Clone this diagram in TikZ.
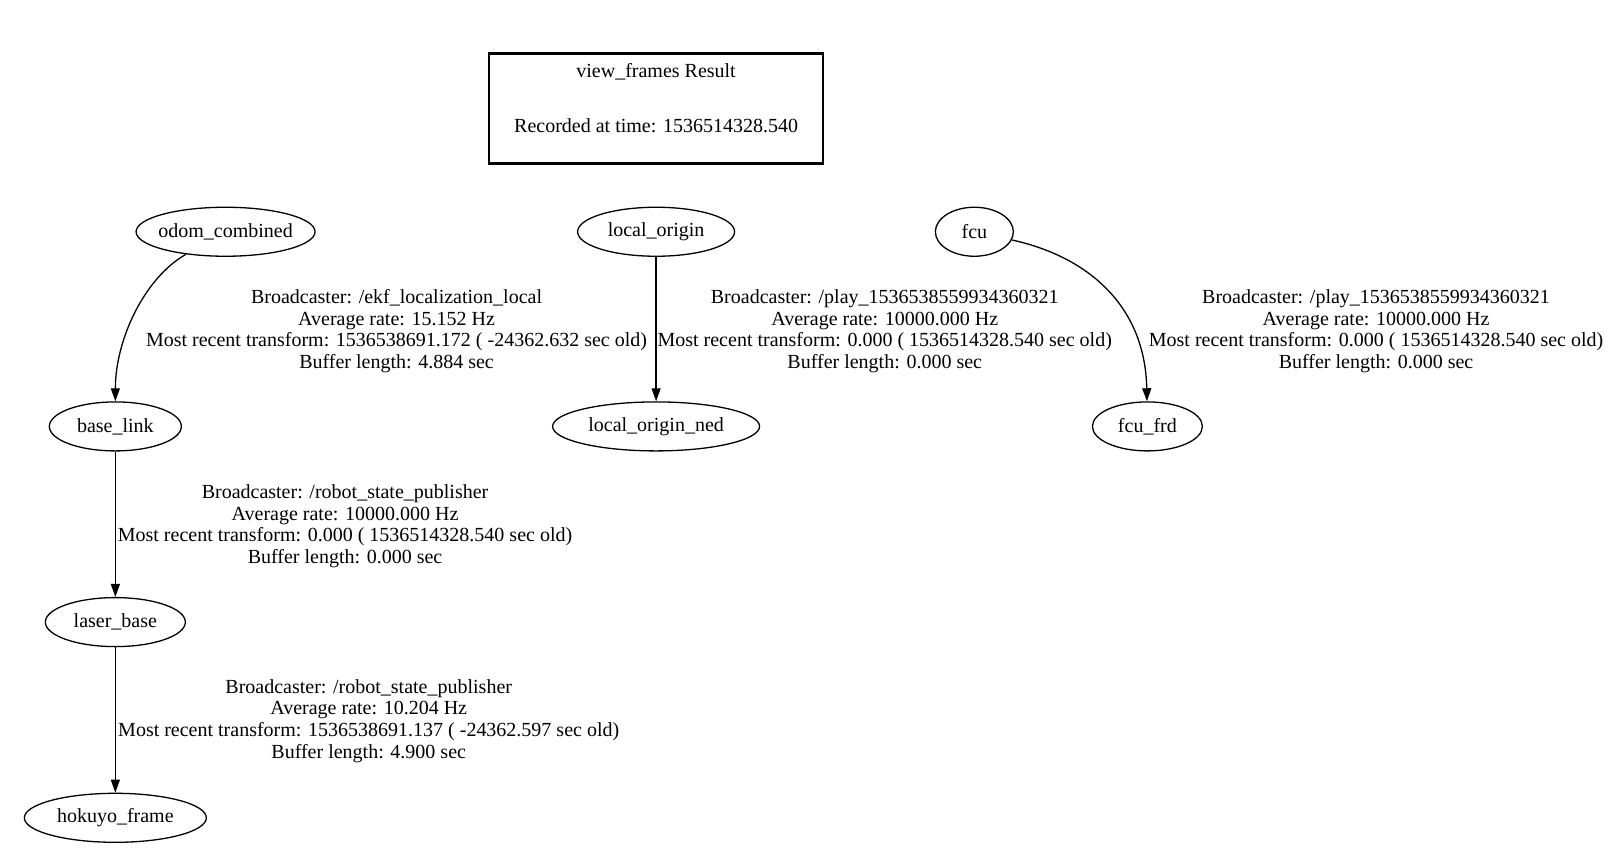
\documentclass[tikz,border=0pt]{standalone}
\usepackage{fontspec}
\setmainfont{Liberation Serif}
\usetikzlibrary{shapes.geometric,arrows.meta}
\newcommand{\zw}[1]{\raisebox{-1.5pt}{\makebox[0pt]{#1}}}
\begin{document}
\begin{tikzpicture}[x=1.03pt,y=-1.03pt,
  every node/.style={font=\fontsize{20pt}{21.6pt}\selectfont},
  tfnode/.style={ellipse, draw, line width=1.3pt, inner sep=0pt, minimum height=49pt},
  lbl/.style={align=center, inner sep=0pt},
  conn/.style={line width=1.3pt, -{Triangle[length=13pt,width=9pt]}},
  titlebox/.style={draw, line width=2.6pt, align=center, minimum width=334pt, minimum height=110pt, inner sep=0pt}]
\useasboundingbox (0,0) rectangle (1568,828);

\node[titlebox] (title) at (637,105.5) {view\_frames Result\\[33pt]Recorded at time: 1536514328.540\\\mbox{}};

\node[tfnode, minimum width=179pt] (odom) at (219,225) {\zw{odom\_combined}};
\node[tfnode, minimum width=157pt] (lo) at (637,225) {\zw{local\_origin}};
\node[tfnode, minimum width=78pt] (fcu) at (946,225) {\zw{fcu}};
\node[tfnode, minimum width=132pt] (base) at (112,414) {\zw{base\_link}};
\node[tfnode, minimum width=207pt] (lon) at (637,414) {\zw{local\_origin\_ned}};
\node[tfnode, minimum width=110pt] (frd) at (1114,414) {\zw{fcu\_frd}};
\node[tfnode, minimum width=140pt] (laser) at (112,604) {\zw{laser\_base}};
\node[tfnode, minimum width=182pt] (hok) at (112,794) {\zw{hokuyo\_frame}};

\draw[conn] (odom) .. controls (140,270) and (112,330) .. (base);
\draw[conn] (lo) -- (lon);
\draw[conn] (fcu) .. controls (1060,250) and (1112,300) .. (frd);
\draw[conn] (base) -- (laser);
\draw[conn] (laser) -- (hok);

\node[lbl] (l1) at (385,321.5) {Broadcaster: /ekf\_localization\_local\\Average rate: 15.152 Hz\\Most recent transform: 1536538691.172 ( -24362.632 sec old)\\Buffer length: 4.884 sec};
\node[lbl] (l2) at (859,321.5) {Broadcaster: /play\_1536538559934360321\\Average rate: 10000.000 Hz\\Most recent transform: 0.000 ( 1536514328.540 sec old)\\Buffer length: 0.000 sec};
\node[lbl] (l3) at (1336,321.5) {Broadcaster: /play\_1536538559934360321\\Average rate: 10000.000 Hz\\Most recent transform: 0.000 ( 1536514328.540 sec old)\\Buffer length: 0.000 sec};
\node[lbl] (l4) at (335,511) {Broadcaster: /robot\_state\_publisher\\Average rate: 10000.000 Hz\\Most recent transform: 0.000 ( 1536514328.540 sec old)\\Buffer length: 0.000 sec};
\node[lbl] (l5) at (358,700) {Broadcaster: /robot\_state\_publisher\\Average rate: 10.204 Hz\\Most recent transform: 1536538691.137 ( -24362.597 sec old)\\Buffer length: 4.900 sec};
\end{tikzpicture}
\end{document}
